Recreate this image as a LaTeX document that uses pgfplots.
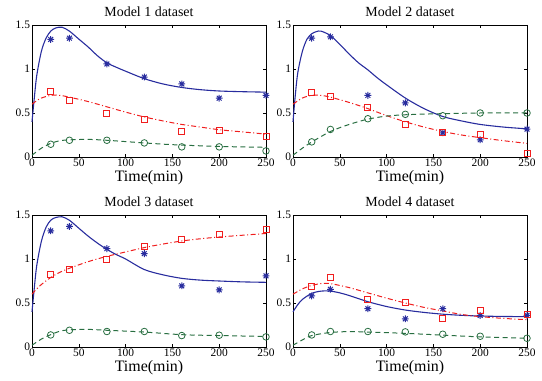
\documentclass[border=0pt]{standalone}
\usepackage{pgfplots}
\pgfplotsset{compat=1.18}
\usepackage{fontspec}
\setmainfont{Liberation Serif}
\definecolor{mblue}{RGB}{40,44,158}
\definecolor{mred}{RGB}{240,30,30}
\definecolor{mgreen}{RGB}{40,110,65}
\pgfdeclareplotmark{mstar}{%
  \pgfpathmoveto{\pgfqpoint{0pt}{\pgfplotmarksize}}\pgfpathlineto{\pgfqpoint{0pt}{-\pgfplotmarksize}}%
  \pgfpathmoveto{\pgfqpoint{\pgfplotmarksize}{0pt}}\pgfpathlineto{\pgfqpoint{-\pgfplotmarksize}{0pt}}%
  \pgfpathmoveto{\pgfqpoint{.707\pgfplotmarksize}{.707\pgfplotmarksize}}\pgfpathlineto{\pgfqpoint{-.707\pgfplotmarksize}{-.707\pgfplotmarksize}}%
  \pgfpathmoveto{\pgfqpoint{-.707\pgfplotmarksize}{.707\pgfplotmarksize}}\pgfpathlineto{\pgfqpoint{.707\pgfplotmarksize}{-.707\pgfplotmarksize}}%
  \pgfusepathqstroke}
\pgfplotsset{
  panel/.style={
    width=234bp, height=132bp, scale only axis,
    xmin=0, xmax=250, ymin=0, ymax=1.5,
    xtick={0,50,...,250}, ytick={0,0.5,1,1.5},
    yticklabels={0,0.5,1,1.5},
    tick align=inside, tick pos=both,
    major tick length=3bp,
    axis line style={line width=0.7pt},
    tick style={line width=0.5pt, black},
    /pgf/number format/assume math mode=true,
    tick label style={font=\fontsize{11.5}{12}\selectfont},
    xticklabel style={yshift=1.5bp},
    yticklabel style={xshift=1.5bp},
    xlabel={Time(min)},
    xlabel style={font=\fontsize{16}{17}\selectfont, yshift=3.5bp},
    title style={font=\fontsize{14}{15}\selectfont, yshift=-1bp},
    clip=false,
  },
  fitb/.style={mblue, line width=1.1pt, smooth, no marks},
  fitr/.style={mred, line width=1.0pt, smooth, no marks, dash pattern=on 5bp off 2.5bp on 1bp off 2.5bp},
  fitg/.style={mgreen, line width=1.0pt, smooth, no marks, dash pattern=on 5bp off 3.5bp},
  datb/.style={only marks, mblue, mark=mstar, mark size=3.4bp, mark options={line width=1pt, solid}},
  datr/.style={only marks, mred, mark=square, mark size=3bp, mark options={line width=0.8pt, solid, draw=mred}},
  datg/.style={only marks, mgreen, mark=o, mark size=3.3bp, mark options={line width=0.8pt, solid, draw=mgreen}},
}
\begin{document}
\begin{tikzpicture}
\useasboundingbox (0,0) rectangle (542bp,381bp);
% ---------------- Model 1
\begin{axis}[panel, at={(32bp,224bp)}, anchor=south west, title={Model 1 dataset}]
\addplot[fitb] coordinates {(0,0.40)(2,0.62)(5,0.92)(10,1.20)(15,1.35)(20,1.43)(25,1.465)(32,1.475)(40,1.43)(50,1.34)(60,1.25)(70,1.15)(80,1.07)(90,1.02)(100,0.975)(120,0.89)(140,0.83)(160,0.79)(180,0.765)(200,0.75)(225,0.742)(250,0.737)};
\addplot[fitr] coordinates {(0,0.60)(5,0.64)(10,0.67)(20,0.70)(30,0.70)(40,0.68)(60,0.63)(80,0.57)(100,0.51)(120,0.455)(140,0.41)(160,0.37)(180,0.34)(200,0.31)(225,0.285)(250,0.26)};
\addplot[fitg] coordinates {(0,0.02)(10,0.10)(20,0.155)(30,0.185)(40,0.195)(60,0.20)(80,0.19)(100,0.175)(120,0.16)(150,0.14)(200,0.12)(250,0.11)};
\addplot[datb] coordinates {(20,1.336)(40,1.35)(80,1.057)(120,0.908)(160,0.83)(200,0.668)(250,0.70)};
\addplot[datr] coordinates {(20,0.744)(40,0.641)(80,0.496)(120,0.431)(160,0.286)(200,0.298)(250,0.229)};
\addplot[datg] coordinates {(20,0.145)(40,0.19)(80,0.19)(120,0.16)(160,0.115)(200,0.115)(250,0.069)};
\end{axis}
% ---------------- Model 2
\begin{axis}[panel, at={(293bp,224bp)}, anchor=south west, title={Model 2 dataset}]
\addplot[fitb] coordinates {(0,0.40)(2,0.65)(5,0.95)(10,1.20)(15,1.34)(20,1.40)(25,1.425)(30,1.43)(40,1.38)(50,1.28)(60,1.17)(70,1.07)(80,0.99)(90,0.90)(100,0.82)(120,0.67)(140,0.55)(160,0.46)(180,0.41)(200,0.37)(225,0.34)(250,0.32)};
\addplot[fitr] coordinates {(0,0.60)(10,0.67)(20,0.70)(30,0.70)(40,0.68)(60,0.62)(80,0.55)(100,0.47)(120,0.40)(140,0.34)(160,0.29)(180,0.25)(200,0.22)(225,0.185)(250,0.155)};
\addplot[fitg] coordinates {(0,0.02)(10,0.10)(20,0.17)(40,0.29)(60,0.37)(80,0.43)(100,0.465)(120,0.48)(150,0.49)(200,0.50)(250,0.50)};
\addplot[datb] coordinates {(20,1.35)(40,1.366)(80,0.70)(120,0.615)(160,0.275)(200,0.195)(250,0.317)};
\addplot[datr] coordinates {(20,0.729)(40,0.687)(80,0.565)(120,0.374)(160,0.275)(200,0.26)(250,0.046)};
\addplot[datg] coordinates {(20,0.172)(40,0.313)(80,0.435)(120,0.485)(160,0.469)(200,0.50)(250,0.50)};
\end{axis}
% ---------------- Model 3
\begin{axis}[panel, at={(32bp,34bp)}, anchor=south west, title={Model 3 dataset}]
\addplot[fitb] coordinates {(0,0.40)(2,0.62)(5,0.92)(10,1.20)(15,1.36)(20,1.44)(25,1.47)(32,1.48)(40,1.44)(50,1.35)(60,1.26)(70,1.18)(80,1.11)(90,1.05)(100,1.0)(120,0.88)(140,0.82)(160,0.78)(180,0.76)(200,0.75)(225,0.74)(250,0.735)};
\addplot[fitr] coordinates {(0,0.60)(5,0.66)(10,0.71)(20,0.79)(30,0.85)(40,0.895)(60,0.97)(80,1.03)(100,1.08)(120,1.13)(140,1.17)(160,1.205)(180,1.23)(200,1.25)(225,1.27)(250,1.29)};
\addplot[fitg] coordinates {(0,0.02)(10,0.09)(20,0.14)(30,0.18)(40,0.195)(60,0.20)(80,0.19)(120,0.17)(160,0.14)(200,0.13)(250,0.12)};
\addplot[datb] coordinates {(20,1.32)(40,1.37)(80,1.118)(120,1.061)(160,0.695)(200,0.649)(250,0.809)};
\addplot[datr] coordinates {(20,0.828)(40,0.878)(80,0.992)(120,1.141)(160,1.225)(200,1.279)(250,1.336)};
\addplot[datg] coordinates {(20,0.137)(40,0.19)(80,0.176)(120,0.176)(160,0.13)(200,0.134)(250,0.115)};
\end{axis}
% ---------------- Model 4
\begin{axis}[panel, at={(293bp,34bp)}, anchor=south west, title={Model 4 dataset}]
\addplot[fitb] coordinates {(0,0.40)(5,0.48)(10,0.54)(20,0.61)(30,0.635)(40,0.635)(50,0.615)(60,0.585)(80,0.515)(100,0.46)(120,0.42)(140,0.393)(160,0.373)(180,0.36)(200,0.352)(225,0.347)(250,0.345)};
\addplot[fitr] coordinates {(0,0.60)(10,0.66)(20,0.70)(30,0.72)(40,0.72)(60,0.675)(80,0.615)(100,0.555)(120,0.50)(140,0.45)(160,0.41)(180,0.37)(200,0.345)(225,0.325)(250,0.31)};
\addplot[fitg] coordinates {(0,0.02)(10,0.08)(20,0.13)(40,0.165)(60,0.175)(80,0.17)(120,0.155)(160,0.135)(200,0.115)(250,0.10)};
\addplot[datb] coordinates {(20,0.58)(40,0.656)(80,0.435)(120,0.32)(160,0.435)(200,0.359)(250,0.359)};
\addplot[datr] coordinates {(20,0.687)(40,0.786)(80,0.542)(120,0.504)(160,0.32)(200,0.412)(250,0.366)};
\addplot[datg] coordinates {(20,0.137)(40,0.176)(80,0.176)(120,0.172)(160,0.145)(200,0.122)(250,0.099)};
\end{axis}
\end{tikzpicture}
\end{document}
